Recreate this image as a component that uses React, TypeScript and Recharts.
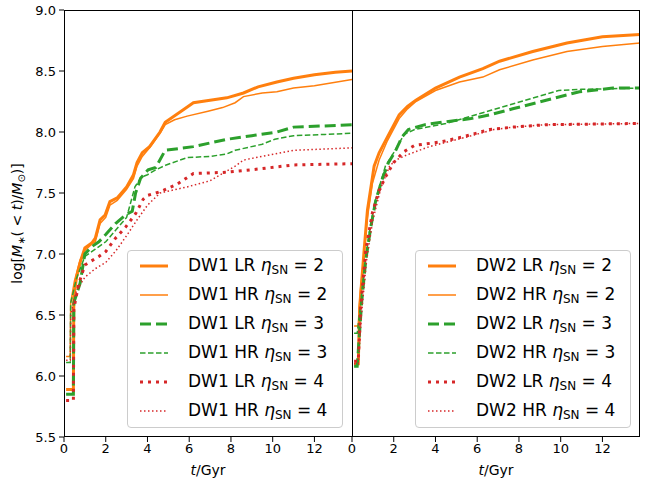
import React from "react";
import { LineChart, Line, XAxis, YAxis, Legend } from "recharts";

type Pt = [number, number];

// time axis (Gyr) and log stellar mass axis
const T_TICKS = [0, 2, 4, 6, 8, 10, 12];
const T_MAX = 13.8;
const LOGM_TICKS = [5.5, 6.0, 6.5, 7.0, 7.5, 8.0, 8.5, 9.0];

// DW1 cumulative stellar mass, [t, log M*]
const dw1Lr2: Pt[] = [
  [0.1, 5.89], [0.45, 5.89], [0.47, 6.65], [0.6, 6.81], [0.77, 6.93], [1.0, 7.05],
  [1.33, 7.09], [1.5, 7.13], [1.73, 7.28], [1.97, 7.32], [2.2, 7.43], [2.55, 7.46],
  [3.0, 7.55], [3.33, 7.65], [3.5, 7.75], [3.75, 7.83], [4.1, 7.88], [4.6, 8.0],
  [4.85, 8.08], [5.7, 8.18], [6.2, 8.24], [7.0, 8.26], [7.8, 8.28], [8.6, 8.32],
  [9.3, 8.37], [10.2, 8.41], [11.0, 8.44], [12.0, 8.47], [13.0, 8.49], [13.8, 8.5],
];
const dw1Hr2: Pt[] = [
  [0.1, 6.16], [0.3, 6.16], [0.32, 6.6], [0.5, 6.78], [0.77, 6.95], [1.0, 7.03],
  [1.33, 7.08], [1.5, 7.1], [1.73, 7.25], [2.0, 7.3], [2.2, 7.4], [2.55, 7.44],
  [3.0, 7.53], [3.33, 7.62], [3.5, 7.72], [3.75, 7.8], [4.1, 7.87], [4.6, 7.99],
  [4.85, 8.06], [5.3, 8.1], [5.9, 8.13], [6.9, 8.17], [7.6, 8.2], [8.2, 8.24],
  [8.6, 8.29], [9.5, 8.32], [10.2, 8.33], [11.0, 8.36], [12.0, 8.38], [13.8, 8.43],
];
const dw1Lr3: Pt[] = [
  [0.1, 5.85], [0.45, 5.85], [0.47, 6.6], [0.77, 6.76], [1.0, 7.0], [1.33, 7.06],
  [1.67, 7.1], [2.0, 7.16], [2.47, 7.25], [2.95, 7.32], [3.27, 7.35], [3.43, 7.5],
  [3.67, 7.62], [4.03, 7.69], [4.4, 7.71], [4.85, 7.85], [6.2, 7.88], [7.8, 7.94],
  [9.0, 7.97], [10.2, 8.0], [11.0, 8.04], [12.5, 8.05], [13.8, 8.06],
];
const dw1Hr3: Pt[] = [
  [0.1, 6.11], [0.3, 6.11], [0.32, 6.6], [0.6, 6.8], [1.0, 6.98], [1.5, 7.04],
  [2.0, 7.1], [2.5, 7.2], [3.0, 7.3], [3.4, 7.55], [3.7, 7.63], [4.0, 7.65],
  [4.4, 7.69], [4.9, 7.73], [5.9, 7.79], [7.0, 7.8], [7.8, 7.82], [8.2, 7.85],
  [9.5, 7.9], [10.1, 7.94], [11.0, 7.97], [12.5, 7.98], [13.8, 7.99],
];
const dw1Lr4: Pt[] = [
  [0.1, 5.8], [0.45, 5.8], [0.47, 6.55], [0.7, 6.75], [1.0, 6.91], [1.67, 6.98],
  [2.0, 7.02], [2.47, 7.13], [2.95, 7.22], [3.43, 7.33], [3.8, 7.45], [4.0, 7.48],
  [4.6, 7.51], [5.4, 7.57], [6.2, 7.66], [7.8, 7.67], [9.5, 7.7], [11.0, 7.73],
  [13.8, 7.74],
];
const dw1Hr4: Pt[] = [
  [0.1, 6.13], [0.3, 6.13], [0.32, 6.5], [0.6, 6.7], [1.0, 6.81], [1.5, 6.88],
  [2.0, 6.93], [2.5, 7.03], [3.0, 7.15], [3.5, 7.28], [4.0, 7.4], [4.6, 7.5],
  [5.9, 7.55], [7.0, 7.6], [8.2, 7.72], [8.6, 7.77], [9.5, 7.8], [11.0, 7.85],
  [13.8, 7.87],
];

// DW2 cumulative stellar mass, [t, log M*]
const dw2Lr2: Pt[] = [
  [0.1, 6.1], [0.3, 6.1], [0.37, 6.57], [0.58, 7.03], [0.74, 7.36], [0.98, 7.63],
  [1.06, 7.72], [1.3, 7.83], [1.7, 7.96], [2.26, 8.14], [2.66, 8.21], [3.06, 8.26],
  [4.0, 8.36], [5.15, 8.45], [6.27, 8.52], [7.07, 8.58], [8.66, 8.66], [10.3, 8.73],
  [12.0, 8.78], [13.8, 8.8],
];
const dw2Hr2: Pt[] = [
  [0.1, 6.41], [0.3, 6.41], [0.4, 6.7], [0.58, 7.0], [0.74, 7.3], [0.98, 7.58],
  [1.3, 7.77], [1.7, 7.93], [2.26, 8.11], [2.66, 8.19], [3.06, 8.25], [4.0, 8.34],
  [5.15, 8.41], [6.27, 8.45], [7.07, 8.51], [8.66, 8.59], [10.3, 8.66], [12.0, 8.7],
  [13.8, 8.73],
];
const dw2Lr3: Pt[] = [
  [0.1, 6.08], [0.25, 6.08], [0.47, 6.62], [0.66, 6.95], [0.9, 7.22], [1.14, 7.44],
  [1.46, 7.62], [1.75, 7.75], [2.07, 7.84], [2.4, 7.96], [2.7, 8.02], [3.5, 8.06],
  [4.3, 8.08], [5.7, 8.11], [6.6, 8.14], [7.7, 8.19], [9.3, 8.26], [10.9, 8.33],
  [12.5, 8.36], [13.8, 8.36],
];
const dw2Hr3: Pt[] = [
  [0.1, 6.35], [0.25, 6.35], [0.45, 6.65], [0.66, 6.98], [0.9, 7.25], [1.14, 7.45],
  [1.6, 7.72], [2.0, 7.83], [2.5, 7.98], [3.0, 8.02], [4.5, 8.07], [5.7, 8.13],
  [6.7, 8.18], [8.3, 8.26], [9.9, 8.34], [11.0, 8.35], [13.8, 8.36],
];
const dw2Lr4: Pt[] = [
  [0.1, 6.12], [0.3, 6.12], [0.42, 6.57], [0.66, 7.03], [0.98, 7.34], [1.3, 7.52],
  [1.6, 7.63], [2.0, 7.75], [2.5, 7.84], [3.0, 7.89], [4.3, 7.92], [5.3, 7.96],
  [6.6, 8.02], [7.7, 8.04], [9.3, 8.06], [13.8, 8.07],
];
const dw2Hr4: Pt[] = [
  [0.1, 6.1], [0.3, 6.1], [0.45, 6.5], [0.7, 6.95], [1.0, 7.28], [1.4, 7.55],
  [1.8, 7.72], [2.1, 7.77], [2.6, 7.81], [3.7, 7.88], [5.3, 7.95], [6.8, 8.02],
  [7.7, 8.04], [9.3, 8.06], [13.8, 8.07],
];

const ETAS = [2, 2, 3, 3, 4, 4];
const RES = ["LR", "HR", "LR", "HR", "LR", "HR"];

// one style per (resolution, eta) combination, same order as above
const STYLES = [
  { color: "#ff7f0e", width: 3, dash: undefined as string | undefined },
  { color: "#ff7f0e", width: 1.5, dash: undefined as string | undefined },
  { color: "#2ca02c", width: 3, dash: "11 5" },
  { color: "#2ca02c", width: 1.5, dash: "5.5 2.5" },
  { color: "#d62728", width: 3, dash: "3 5" },
  { color: "#d62728", width: 1.5, dash: "1.5 2.5" },
];

const FONT = "DejaVu Sans, sans-serif";
const PLOT_W = 288;
const toRows = (pts: Pt[]) => pts.map(([t, m]) => ({ t, m }));

const EtaLabel = ({ name, res, eta }: { name: string; res: string; eta: number }) => (
  <span style={{ whiteSpace: "nowrap" }}>
    {name} {res} <i>η</i>
    <sub style={{ fontSize: 12, verticalAlign: -3 }}>SN</sub> = {eta}
  </span>
);

const legendBox = (name: string) => () => (
  <div
    style={{
      width: 214,
      height: 176,
      border: "1px solid #cccccc",
      borderRadius: 4,
      background: "rgba(255,255,255,0.8)",
      fontFamily: FONT,
      fontSize: 17,
      color: "#000",
      paddingTop: 0,
    }}
  >
    {STYLES.map((s, i) => (
      <div key={i} style={{ height: 29, display: "flex", alignItems: "center" }}>
        <svg width={60} height={10} style={{ flex: "none" }}>
          <line x1={12} x2={40} y1={5} y2={5} stroke={s.color} strokeWidth={s.width} strokeDasharray={s.dash} />
        </svg>
        <EtaLabel name={name} res={RES[i]} eta={ETAS[i]} />
      </div>
    ))}
  </div>
);

const TimeLabel = (props: any) => {
  const { viewBox } = props;
  const cx = viewBox.x + viewBox.width / 2;
  return (
    <text x={cx} y={viewBox.y + 38} textAnchor="middle" fontFamily={FONT} fontSize={14} fill="#000">
      <tspan fontStyle="italic">t</tspan>/Gyr
    </text>
  );
};

const MassLabel = (props: any) => {
  const { viewBox } = props;
  const cx = viewBox.x + 22;
  const cy = viewBox.y + viewBox.height / 2;
  return (
    <text
      x={cx}
      y={cy}
      transform={`rotate(-90, ${cx}, ${cy})`}
      textAnchor="middle"
      fontFamily={FONT}
      fontSize={14}
      fill="#000"
    >
      log[<tspan fontStyle="italic">M</tspan>
      <tspan fontSize={10} dy={3}>∗</tspan>
      <tspan dy={-3}>( &lt; </tspan>
      <tspan fontStyle="italic">t</tspan>)/<tspan fontStyle="italic">M</tspan>
      <tspan fontSize={10} dy={3}>⊙</tspan>
      <tspan dy={-3}>)]</tspan>
    </text>
  );
};

const tickStyle = { fontFamily: FONT, fontSize: 13, fill: "#000" };

function Panel({ name, series, width, left, showY, legendLeft }: {
  name: string; series: Pt[][]; width: number; left: number; showY: boolean; legendLeft: number;
}) {
  return (
    <LineChart width={width} height={479} margin={{ top: 10, right: width - left - PLOT_W, bottom: 0, left: showY ? 0 : left }}>
      <XAxis
        dataKey="t"
        type="number"
        domain={[0, T_MAX]}
        ticks={T_TICKS}
        interval={0}
        allowDataOverflow
        axisLine={false}
        tickLine={{ stroke: "#000" }}
        tickSize={5}
        tickMargin={2}
        tick={tickStyle}
        height={42}
        label={<TimeLabel />}
      />
      {showY ? (
        <YAxis
          type="number"
          domain={[5.5, 9]}
          ticks={LOGM_TICKS}
          interval={0}
          allowDataOverflow
          axisLine={false}
          tickLine={{ stroke: "#000" }}
          tickSize={5}
          tickMargin={3}
          tick={tickStyle}
          tickFormatter={(v: number) => v.toFixed(1)}
          width={left}
          label={<MassLabel />}
        />
      ) : (
        <YAxis type="number" domain={[5.5, 9]} allowDataOverflow hide />
      )}
      {series.map((pts, i) => (
        <Line
          key={i}
          data={toRows(pts)}
          dataKey="m"
          name={`${name} ${RES[i]} ${ETAS[i]}`}
          type="linear"
          dot={false}
          activeDot={false}
          stroke={STYLES[i].color}
          strokeWidth={STYLES[i].width}
          strokeDasharray={STYLES[i].dash}
          isAnimationActive={false}
        />
      ))}
      <Legend
        layout="vertical"
        align="center"
        verticalAlign="middle"
        content={legendBox(name)}
        wrapperStyle={{ left: legendLeft, top: 250, width: 216, height: 178 }}
      />
    </LineChart>
  );
}

export default function App() {
  return (
    <div style={{ position: "absolute", left: 0, top: 0, width: 659, height: 479, background: "#fff" }}>
      <div style={{ position: "absolute", left: 0, top: 0 }}>
        <Panel name="DW1" series={[dw1Lr2, dw1Hr2, dw1Lr3, dw1Hr3, dw1Lr4, dw1Hr4]} width={352} left={64} showY legendLeft={127} />
      </div>
      <div style={{ position: "absolute", left: 332, top: 0 }}>
        <Panel name="DW2" series={[dw2Lr2, dw2Hr2, dw2Lr3, dw2Hr3, dw2Lr4, dw2Hr4]} width={327} left={20} showY={false} legendLeft={83} />
      </div>
      {/* axes frame and the shared panel divider */}
      <div style={{ position: "absolute", left: 64, top: 10, width: 576, height: 427, boxSizing: "border-box", border: "1px solid #000", pointerEvents: "none" }} />
      <div style={{ position: "absolute", left: 352, top: 10, width: 1, height: 427, background: "#000", pointerEvents: "none" }} />
    </div>
  );
}
